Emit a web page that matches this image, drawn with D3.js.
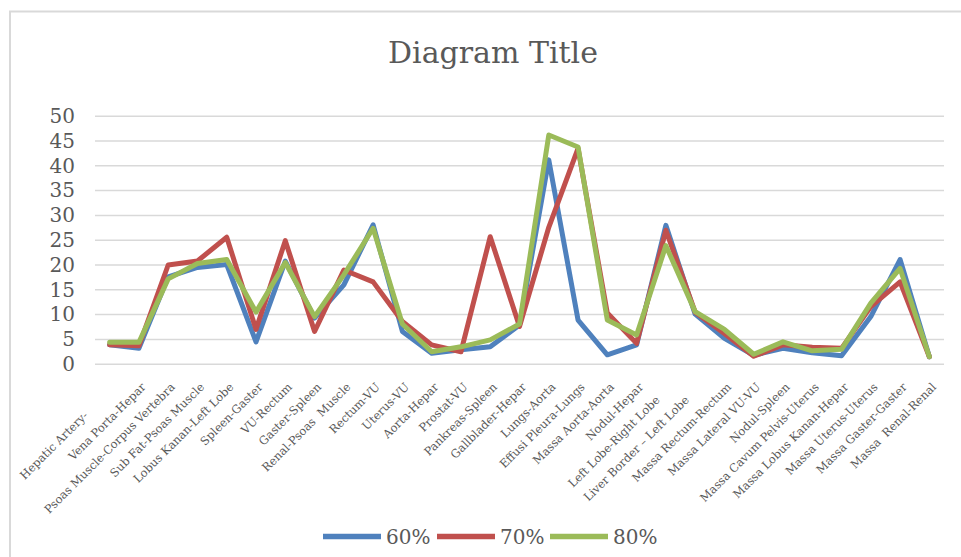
<!DOCTYPE html>
<html>
<head>
<meta charset="utf-8">
<script src="https://cdn.jsdelivr.net/npm/d3@7/dist/d3.min.js"></script>
<style>
  html, body { margin: 0; padding: 0; background: #fff; }
  svg { display: block; }
</style>
</head>
<body>
<svg id="chart" width="961" height="557"></svg>
<script>
// Category labels (some carry trailing spaces as entered in the source sheet)
const categories = [
  "Hepatic Artery-" + "\u00a0".repeat(11),
  "Vena Porta-Hepar",
  "Psoas Muscle-Corpus Vertebra",
  "Sub Fat-Psoas Muscle",
  "Lobus Kanan-Left Lobe",
  "Spleen-Gaster",
  "VU-Rectum",
  "Gaster-Spleen",
  "Renal-Psoas\u00a0 Muscle",
  "Rectum-VU",
  "Uterus-VU",
  "Aorta-Hepar",
  "Prostat-VU",
  "Pankreas-Spleen",
  "Gallblader-Hepar",
  "Lungs-Aorta",
  "Effusi Pleura-Lungs",
  "Massa Aorta-Aorta",
  "Nodul-Hepar",
  "Left Lobe-Right Lobe" + "\u00a0".repeat(5),
  "Liver Border \u2013 Left Lobe" + "\u00a0".repeat(5),
  "Massa Rectum-Rectum",
  "Massa Lateral VU-VU",
  "Nodul-Spleen",
  "Massa Cavum Pelvis-Uterus",
  "Massa Lobus Kanan-Hepar",
  "Massa Uterus-Uterus",
  "Massa Gaster-Gaster",
  "Massa\u00a0 Renal-Renal"
];

const seriesNames = ["60%", "70%", "80%"];

const values60 = [3.8, 3.1, 17.5, 19.4, 20.0, 4.4, 20.7, 9.2, 15.9, 28.0, 6.5, 2.1, 2.8, 3.4, 7.8, 41.1, 8.8, 1.8, 3.8, 27.9, 10.0, 5.1, 1.7, 3.1, 2.2, 1.6, 9.5, 21.0, 1.4];
const values70 = [3.8, 3.6, 19.9, 20.7, 25.5, 6.9, 24.8, 6.5, 18.9, 16.5, 8.5, 3.8, 2.4, 25.6, 7.5, 27.5, 43.4, 10.2, 4.1, 26.9, 10.4, 6.1, 1.5, 3.8, 3.3, 3.1, 11.5, 16.5, 1.4];
const values80 = [4.3, 4.3, 17.1, 20.2, 21.0, 10.4, 20.4, 9.5, 17.9, 27.3, 8.0, 2.4, 3.4, 4.8, 8.0, 46.1, 43.7, 8.8, 5.8, 23.8, 10.5, 6.9, 1.9, 4.4, 2.6, 2.9, 12.2, 19.2, 1.4];

const yTicks = [0, 5, 10, 15, 20, 25, 30, 35, 40, 45, 50];

const chartTitle = "Diagram Title";

const series = [
  { name: seriesNames[0], values: values60, color: "#4f81bd" },
  { name: seriesNames[1], values: values70, color: "#c0504d" },
  { name: seriesNames[2], values: values80, color: "#9bbb59" }
];

const svg = d3.select("#chart");
const textColor = "#595959";
const serif = "'DejaVu Serif', serif";

// Chart frame
svg.append("path")
  .attr("d", "M10,560 L10,11.5 L961,11.5")
  .attr("fill", "none")
  .attr("stroke", "#d9d9d9")
  .attr("stroke-width", 2);

const plot = { left: 95, right: 944, top: 115.7, bottom: 363.7 };

const x = d3.scalePoint()
  .domain(d3.range(categories.length))
  .range([plot.left, plot.right])
  .padding(0.5);

const y = d3.scaleLinear()
  .domain([0, 50])
  .range([plot.bottom, plot.top]);

// Title
svg.append("text")
  .attr("x", 493)
  .attr("y", 63)
  .attr("text-anchor", "middle")
  .attr("font-family", serif)
  .attr("font-size", 30)
  .attr("fill", textColor)
  .text(chartTitle);

// Horizontal gridlines
const yAxis = d3.axisLeft(y)
  .tickValues(yTicks)
  .tickSize(-(plot.right - plot.left))
  .tickPadding(20);

const gy = svg.append("g")
  .attr("transform", `translate(${plot.left},0)`)
  .call(yAxis);
gy.select(".domain").remove();
gy.selectAll(".tick line")
  .attr("stroke", "#d9d9d9")
  .attr("stroke-width", 1.5);
gy.selectAll(".tick text")
  .attr("font-family", serif)
  .attr("font-size", 20)
  .attr("fill", textColor)
  .attr("dy", "0.34em");

// Category axis with rotated labels
const xAxis = d3.axisBottom(x)
  .tickSize(0)
  .tickFormat(i => categories[i]);

const gx = svg.append("g")
  .attr("transform", `translate(0,${plot.bottom})`)
  .call(xAxis);
gx.select(".domain").remove();
gx.selectAll(".tick text")
  .attr("font-family", serif)
  .attr("font-size", 11.5)
  .attr("fill", textColor)
  .attr("text-anchor", "end")
  .attr("dy", null)
  .attr("y", null)
  .attr("transform", "translate(7,24) rotate(-45)")
  .style("white-space", "pre");

// Series lines
const line = d3.line()
  .x((d, i) => x(i))
  .y(d => y(d));

svg.append("g")
  .selectAll("path")
  .data(series)
  .join("path")
  .attr("d", s => line(s.values))
  .attr("fill", "none")
  .attr("stroke", s => s.color)
  .attr("stroke-width", 5)
  .attr("stroke-linejoin", "round")
  .attr("stroke-linecap", "round");

// Legend
const legendItems = [
  { lx: 323, tx: 386 },
  { lx: 437, tx: 500 },
  { lx: 550, tx: 613 }
];
const legend = svg.append("g");
series.forEach((s, k) => {
  const pos = legendItems[k];
  legend.append("line")
    .attr("x1", pos.lx).attr("x2", pos.lx + 58)
    .attr("y1", 536.5).attr("y2", 536.5)
    .attr("stroke", s.color)
    .attr("stroke-width", 5.5);
  legend.append("text")
    .attr("x", pos.tx)
    .attr("y", 544)
    .attr("font-family", serif)
    .attr("font-size", 20)
    .attr("fill", textColor)
    .text(s.name);
});
</script>
</body>
</html>
